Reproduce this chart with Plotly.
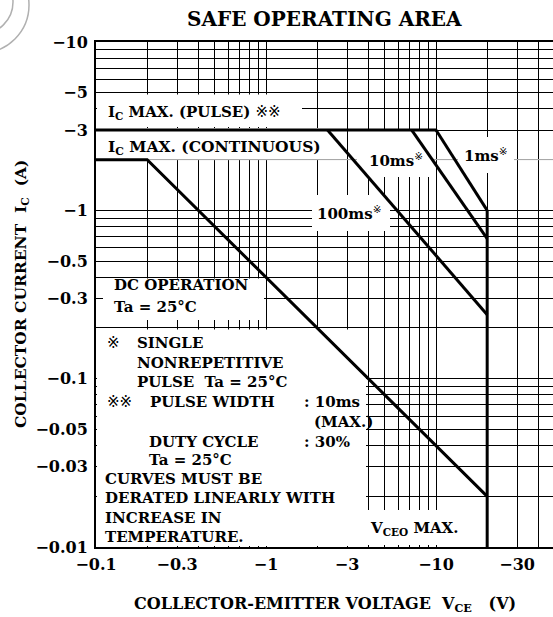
import plotly.graph_objects as go

# ---- data (magnitudes; PNP device, so the chart labels them negative) ----
dc_v = [0.1, 0.2, 20]
dc_i = [2, 2, 0.02]
pulse_v = [0.1, 10]
pulse_i = [3, 3]
ms100_v = [2.3, 20]
ms100_i = [3, 0.24]
ms10_v = [7.2, 20]
ms10_i = [3, 0.68]
ms1_v = [10, 20]
ms1_i = [3, 1.0]
vceo_v = [20, 20]
vceo_i = [1.0, 0.01]

x_tickvals = [0.1, 0.3, 1, 3, 10, 30]
x_ticktext = ["−0.1", "−0.3", "−1", "−3", "−10", "−30"]
y_tickvals = [10, 5, 3, 1, 0.5, 0.3, 0.1, 0.05, 0.03, 0.01]
y_ticktext = ["−10", "−5", "−3", "−1", "−0.5", "−0.3", "−0.1", "−0.05", "−0.03", "−0.01"]

# ---- layout geometry ----
W, H = 553, 617
L, R, T, B = 96, 0, 42, 70
PW, PH = W - L - R, H - T - B
DECX = 170.0
XMAX_LOG = -1 + PW / DECX
DECY = PH / 3.0

FONT = "DejaVu Serif, Noto Sans CJK JP, serif"

def xv(px):
    return 10 ** (-1 + (px - L) / DECX)

def yv(py):
    return 10 ** (-2 + (T + PH - py) / DECY)

def ax(px):
    return (px - L) / PW

def ay(py):
    return (T + PH - py) / PH

grid_x = [m * 10 ** e for e in (-1, 0, 1) for m in range(1, 10)]
grid_y = [m * 10 ** e for e in (-2, -1, 0) for m in range(1, 10)] + [10]

fig = go.Figure()
line_style = dict(color="black", width=3)
for vs, cs in [(dc_v, dc_i), (pulse_v, pulse_i), (ms100_v, ms100_i),
               (ms10_v, ms10_i), (ms1_v, ms1_i), (vceo_v, vceo_i)]:
    fig.add_trace(go.Scatter(x=vs, y=cs, mode="lines", line=line_style,
                             showlegend=False, hoverinfo="skip"))

shapes = []
# faint -2 A gridline
shapes.append(dict(type="line", xref="x", yref="y", x0=0.1, x1=60, y0=2, y1=2,
                   line=dict(color="#c8c8c8", width=1), layer="between"))
# white boxes behind labels (hide grid)
masks_px = [
    (97, 302, 94.5, 127),    # IC max pulse
    (97, 326, 128, 159),     # IC max continuous
    (357, 431, 130, 177),    # 10ms
    (458, 514, 137, 173),    # 1ms
    (312, 390, 195, 231),    # 100ms
    (103, 264, 278.5, 320),  # DC operation
    (97, 366, 329.5, 546),   # notes
    (360, 482, 510, 545),    # VCEO max
]
for x0, x1, y0, y1 in masks_px:
    shapes.append(dict(type="rect", xref="x", yref="y",
                       x0=xv(x0), x1=xv(x1), y0=yv(y1), y1=yv(y0),
                       fillcolor="white", line=dict(width=0), layer="between"))

# scan artefact circles top-left
def circ(cx, cy, r):
    return dict(type="circle", xref="paper", yref="paper",
                x0=ax(cx - r), x1=ax(cx + r), y0=ay(cy + r), y1=ay(cy - r),
                line=dict(color="#b0b0b0", width=1.5), layer="above")
shapes.append(circ(-19, 5, 48))
shapes.append(circ(-19, 2, 32))

ann = []
def t(px, py, text, size=15, xanchor="left", yanchor="middle", angle=0):
    ann.append(dict(x=ax(px), y=ay(py), xref="paper", yref="paper", text=text,
                    showarrow=False, xanchor=xanchor, yanchor=yanchor,
                    textangle=angle,
                    font=dict(family=FONT, size=size, color="black", weight="bold")))

NB = "\u00a0"
RM = "<span style=\"font-family:'DejaVu Sans','Noto Sans CJK JP';font-weight:normal\">※</span>"
RM2 = "<span style=\"font-family:'DejaVu Sans','Noto Sans CJK JP';font-weight:normal\">※※</span>"
t(324, 19, "SAFE OPERATING AREA", size=20, xanchor="center")
t(106, 112, "I<sub>C</sub> MAX. (PULSE) " + RM2)
t(106, 147, "I<sub>C</sub> MAX. (CONTINUOUS)", size=15.5)
t(367, 160, "10ms<sup>" + RM + "</sup>")
t(462, 155, "1ms<sup>" + RM + "</sup>")
t(315, 213, "100ms<sup>" + RM + "</sup>")
t(112, 285, "DC OPERATION")
t(112, 307, "Ta = 25°C")
t(105, 343, RM)
t(135, 343, "SINGLE")
t(135, 363, "NONREPETITIVE")
t(135, 382, "PULSE" + NB + " Ta = 25°C")
t(105, 402, RM2)
t(148, 402, "PULSE WIDTH")
t(302, 402, ": 10ms")
t(312, 422, "(MAX.)")
t(147, 442, "DUTY CYCLE")
t(302, 442, ": 30%")
t(147, 460, "Ta = 25°C")
t(103, 479, "CURVES MUST BE")
t(103, 498, "DERATED LINEARLY WITH")
t(103, 518, "INCREASE IN")
t(103, 537, "TEMPERATURE.")
t(368, 528, "V<sub>CEO</sub> MAX.")
t(325, 604, "COLLECTOR-EMITTER VOLTAGE" + NB * 2 + "V<sub>CE</sub>" + NB * 3 + "(V)",
  size=16, xanchor="center")
t(21, 294, "COLLECTOR CURRENT" + NB * 2 + "I<sub>C</sub>" + NB * 2 + "(A)",
  size=15.5, xanchor="center", angle=-90)

tickfont = dict(family=FONT, size=16, color="black", weight="bold")
fig.update_layout(
    width=W, height=H,
    margin=dict(l=L, r=R, t=T, b=B, pad=0, autoexpand=False),
    paper_bgcolor="white", plot_bgcolor="white",
    shapes=shapes, annotations=ann,
    xaxis=dict(type="log", range=[-1, XMAX_LOG], tickmode="array",
               tickvals=x_tickvals, ticktext=x_ticktext, tickfont=tickfont,
               showgrid=True, gridcolor="black", gridwidth=1,
               minor=dict(tickmode="array", tickvals=grid_x, showgrid=True,
                          gridcolor="black", gridwidth=1, ticks=""),
               showline=True, linewidth=2, linecolor="black", mirror=True,
               ticks="", zeroline=False, automargin=False, ticklabelstandoff=2),
    yaxis=dict(type="log", range=[-2, 1], tickmode="array",
               tickvals=y_tickvals, ticktext=y_ticktext, tickfont=tickfont,
               showgrid=True, gridcolor="black", gridwidth=1,
               minor=dict(tickmode="array", tickvals=grid_y, showgrid=True,
                          gridcolor="black", gridwidth=1, ticks=""),
               showline=True, linewidth=2, linecolor="black", mirror=False,
               ticks="", zeroline=False, automargin=False, ticklabelstandoff=3),
)
fig.write_html("out.html", config={"displayModeBar": False, "staticPlot": True},
               post_script="document.body.style.margin='0';document.body.style.overflow='hidden';")
